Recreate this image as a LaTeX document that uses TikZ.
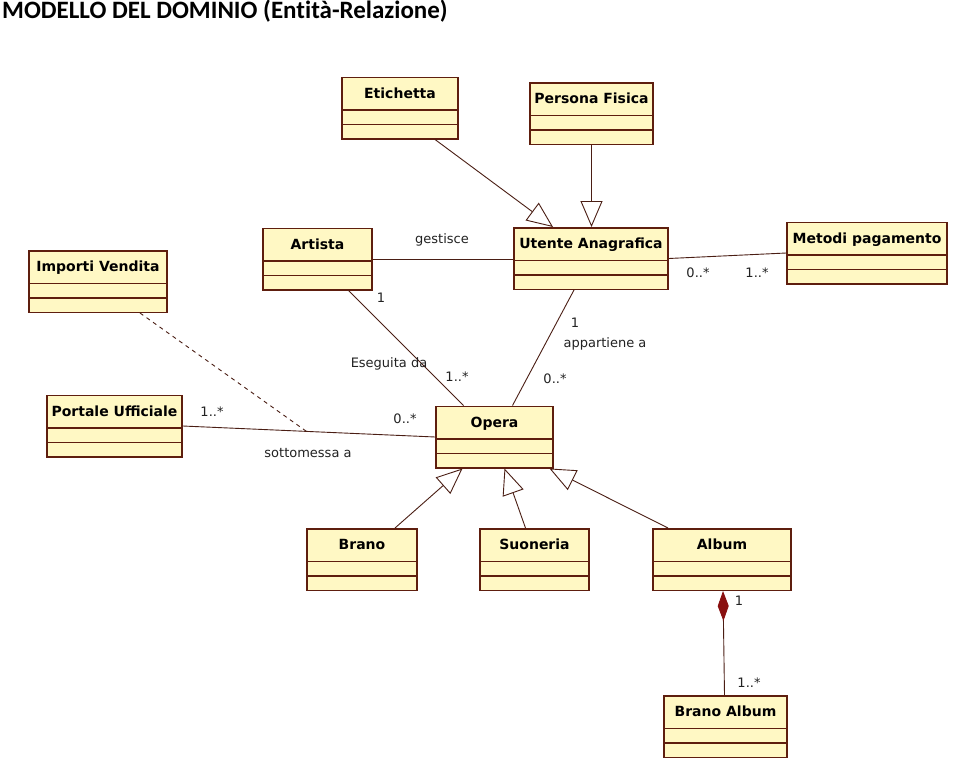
\documentclass[tikz,border=0pt]{standalone}
\usepackage{fontspec}
\setmainfont{DejaVu Sans}
\newfontfamily\titlefont[Ligatures=NoCommon]{Carlito}
\usepackage{tikz}
\usetikzlibrary{arrows.meta,calc,shapes.multipart}
\definecolor{umlfill}{HTML}{FFF8C4}
\definecolor{umlborder}{HTML}{5E1E0E}
\definecolor{umlline}{HTML}{4A1E14}
\definecolor{umldiamond}{HTML}{8A1010}
\definecolor{labelgray}{HTML}{222222}
\newcommand{\clsname}[1]{\rule[-11pt]{0pt}{31pt}#1}
\tikzset{
  umlclass/.style={draw=umlborder, fill=umlfill, line width=1.5pt, rectangle split, rectangle split parts=3, rectangle split empty part height=13pt, rectangle split empty part depth=0pt, inner ysep=0pt, inner xsep=2pt, font=\fontsize{14}{16}\selectfont\bfseries},
  association/.style={umlline, line width=0.9pt},
  inherits/.style={umlline, line width=0.9pt, -{Triangle[open, length=26pt, width=22pt, fill=white]}},
  compose/.style={umlline, line width=0.9pt, {Diamond[length=30pt, width=11pt, color=umldiamond, fill=umldiamond]}-},
  dependency/.style={umlline, line width=0.9pt, dash pattern=on 4pt off 4pt},
  mult/.style={labelgray, inner sep=0pt, font=\fontsize{13}{15}\selectfont}
}
\begin{document}
\begin{tikzpicture}[x=1pt, y=-1pt]
  \useasboundingbox[fill=white] (0,0) rectangle (960,768);
  \node[anchor=base west, inner sep=0pt, font=\titlefont\fontsize{25}{29}\selectfont\bfseries] (titolo) at (2,19) {MODELLO DEL DOMINIO (Entità-Relazione)};
  % classi
  \node[umlclass, minimum width=116pt] (etichetta) at (400,108) {\clsname{Etichetta}};
  \node[umlclass, minimum width=123pt] (persona) at (591.5,113.5) {\clsname{Persona Fisica}};
  \node[umlclass, minimum width=154pt] (utente) at (591,258.5) {\clsname{Utente Anagrafica}};
  \node[umlclass, minimum width=109pt] (artista) at (317.5,259) {\clsname{Artista}};
  \node[umlclass, minimum width=160pt] (metodi) at (867,253) {\clsname{Metodi pagamento}};
  \node[umlclass, minimum width=138pt] (importi) at (98,281.5) {\clsname{Importi Vendita}};
  \node[umlclass, minimum width=135pt] (portale) at (114.5,426) {\clsname{Portale Ufficiale}};
  \node[umlclass, minimum width=117pt] (opera) at (494.5,437) {\clsname{Opera}};
  \node[umlclass, minimum width=110pt] (brano) at (362,559.5) {\clsname{Brano}};
  \node[umlclass, minimum width=109pt] (suoneria) at (534.5,559.5) {\clsname{Suoneria}};
  \node[umlclass, minimum width=138pt] (album) at (722,559.5) {\clsname{Album}};
  \node[umlclass, minimum width=123pt] (branoalbum) at (725.5,726.5) {\clsname{Brano Album}};
  % generalizzazioni
  \draw[inherits] ([xshift=35pt]etichetta.south) -- ([xshift=-38pt]utente.north);
  \draw[inherits] (persona.south) -- (persona.south |- utente.north);
  \draw[inherits] ([xshift=33pt]brano.north) -- ([xshift=-32pt]opera.south);
  \draw[inherits] ([xshift=-9pt]suoneria.north) -- ([xshift=10pt]opera.south);
  \draw[inherits] ([xshift=-54pt]album.north) -- ([xshift=55pt]opera.south);
  % associazioni
  \draw[association] (artista.east) -- (artista.east -| utente.west);
  \draw[association] (utente.east) -- (metodi.west);
  \draw[association] ([xshift=31pt]artista.south) -- ([xshift=-31pt]opera.north);
  \draw[association] ([xshift=-17pt]utente.south) -- ([xshift=18pt]opera.north);
  \draw[association] (portale.east) -- (opera.west);
  \coordinate (venditapt) at ($(portale.east)!0.49!(opera.west)$);
  \draw[dependency] ([xshift=42pt]importi.south) -- (venditapt);
  \draw[compose] ([xshift=1pt]album.south) -- ([xshift=-1pt]branoalbum.north);
  % etichette
  \node[mult] (lgestisce) at (442,240) {gestisce};
  \node[mult] (lmetodiu) at (698,273) {0..*};
  \node[mult] (lmetodim) at (757,273) {1..*};
  \node[mult] (lartista) at (381,298) {1};
  \node[mult] (leseguita) at (389,364) {Eseguita da};
  \node[mult] (loperaa) at (457,377) {1..*};
  \node[mult] (lutente) at (575,323) {1};
  \node[mult] (lappartiene) at (605,344) {appartiene a};
  \node[mult] (loperau) at (555,379) {0..*};
  \node[mult] (lportale) at (212,412) {1..*};
  \node[mult] (loperap) at (405,419) {0..*};
  \node[mult] (lsottomessa) at (308,453) {sottomessa a};
  \node[mult] (lalbum) at (739,601) {1};
  \node[mult] (lbranoalbum) at (749,683) {1..*};
\end{tikzpicture}
\end{document}
